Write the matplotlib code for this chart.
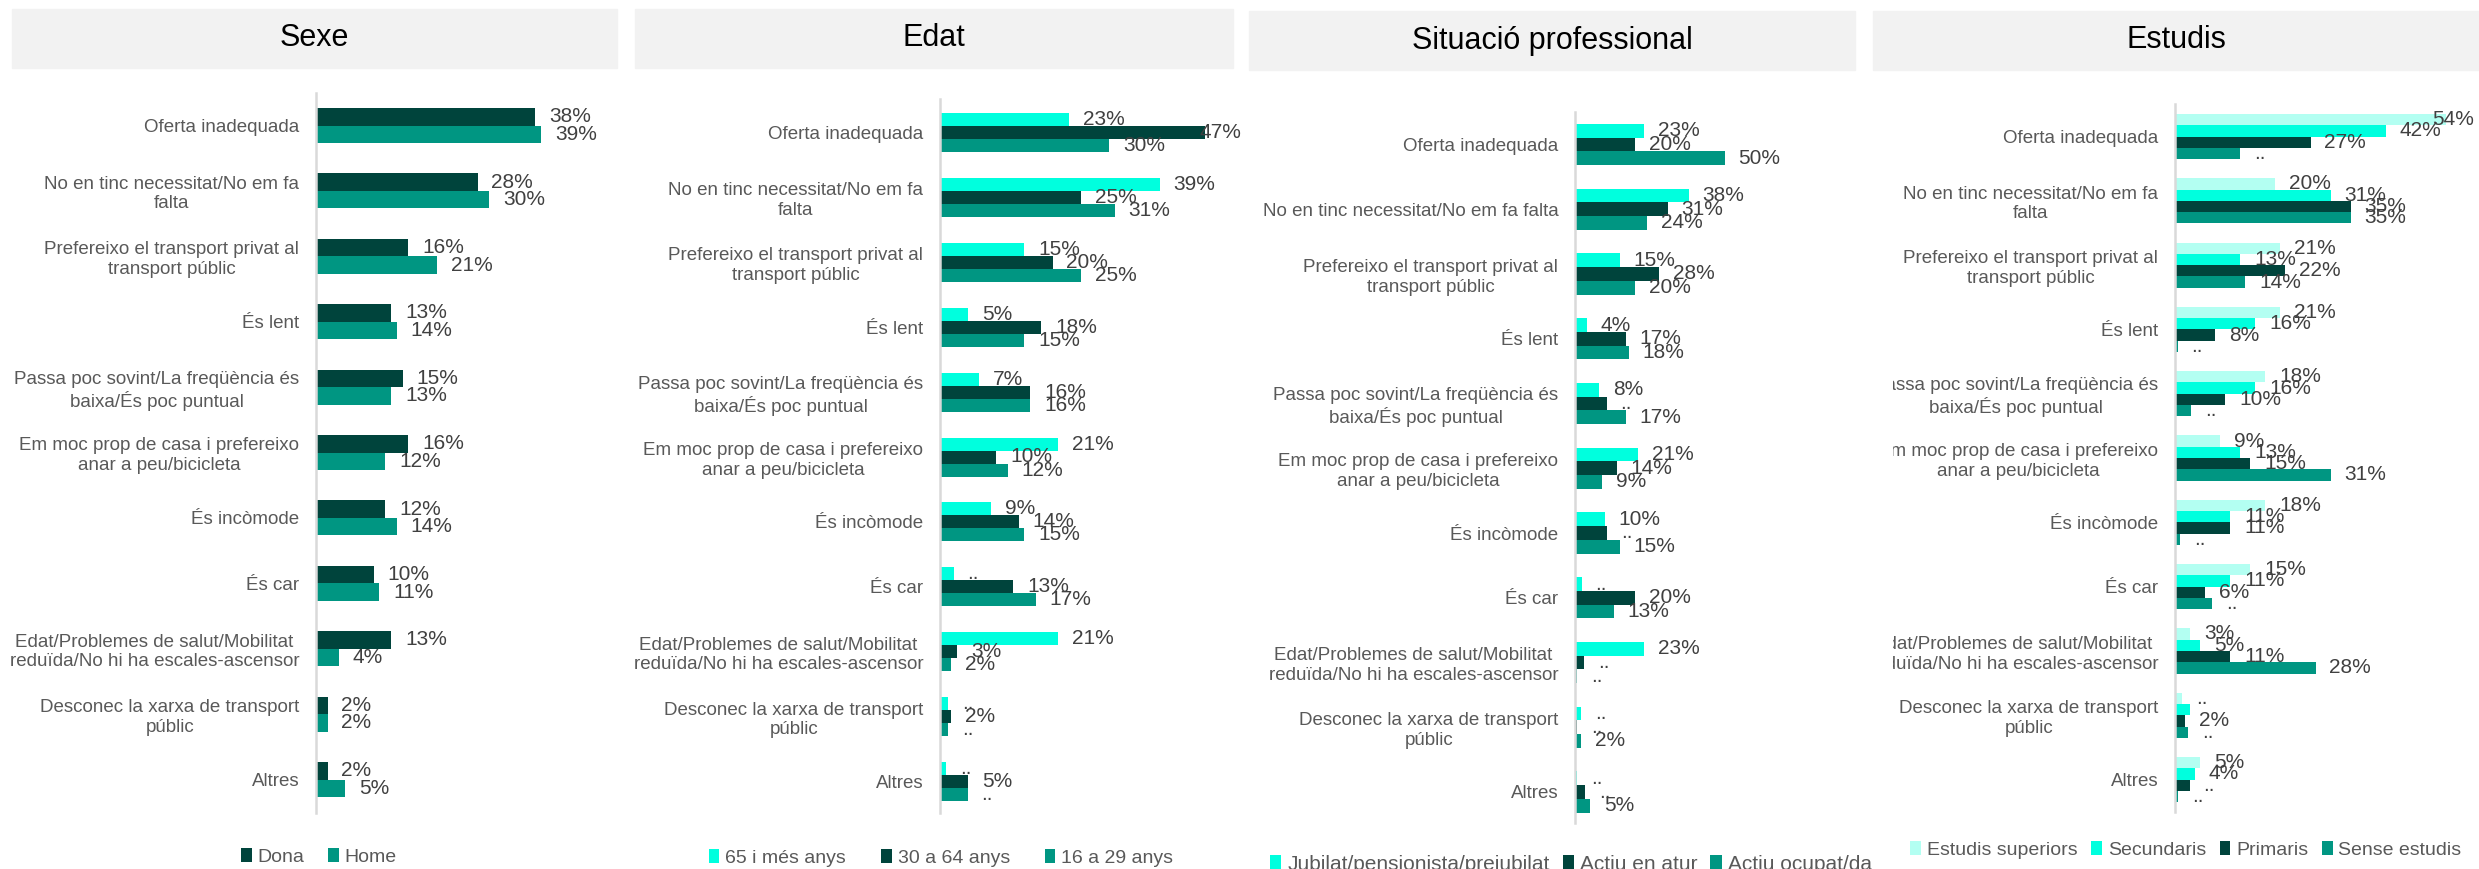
import matplotlib.pyplot as plt
from matplotlib.patches import Rectangle
from matplotlib.transforms import Bbox

plt.rcParams['font.family'] = ['Liberation Sans', 'DejaVu Sans']

W, H = 2479, 869

categories = [
    "Oferta inadequada",
    "No en tinc necessitat/No em fa\nfalta",
    "Prefereixo el transport privat al\ntransport públic",
    "És lent",
    "Passa poc sovint/La freqüència és\nbaixa/És poc puntual",
    "Em moc prop de casa i prefereixo\nanar a peu/bicicleta",
    "És incòmode",
    "És car",
    "Edat/Problemes de salut/Mobilitat\nreduïda/No hi ha escales-ascensor",
    "Desconec la xarxa de transport\npúblic",
    "Altres",
]
categories_sit = list(categories)
categories_sit[1] = "No en tinc necessitat/No em fa falta"

# Sexe
sexe_names = ["Dona", "Home"]
dona = [38, 28, 16, 13, 15, 16, 12, 10, 13, 2, 2]
home = [39, 30, 21, 14, 13, 12, 14, 11, 4, 2, 5]

# Edat
edat_names = ["65 i més anys", "30 a 64 anys", "16 a 29 anys"]
edat_65 = [23, 39, 15, 5, 7, 21, 9, 2.4, 21, 1.4, 1.1]
edat_30 = [47, 25, 20, 18, 16, 10, 14, 13, 3, 2, 5]
edat_16 = [30, 31, 25, 15, 16, 12, 15, 17, 2, 1.4, 4.9]
edat_65_nd = [7, 9, 10]
edat_16_nd = [9, 10]

# Situació professional
sit_names = ["Jubilat/pensionista/prejubilat", "Actiu en atur", "Actiu ocupat/da"]
sit_jub = [23, 38, 15, 4, 8, 21, 10, 2.2, 23, 2, 0.7]
sit_atur = [20, 31, 28, 17, 10.6, 14, 10.8, 20, 3, 0.7, 3.4]
sit_ocup = [50, 24, 20, 18, 17, 9, 15, 13, 0.8, 2, 5]
sit_jub_nd = [7, 9, 10]
sit_atur_nd = [4, 6, 8, 9, 10]
sit_ocup_nd = [8]

# Estudis
est_names = ["Estudis superiors", "Secundaris", "Primaris", "Sense estudis"]
est_sup = [54, 20, 21, 21, 18, 9, 18, 15, 3, 1.4, 5]
est_sec = [42, 31, 13, 16, 16, 13, 11, 11, 5, 2.9, 4]
est_pri = [27, 35, 22, 8, 10, 15, 11, 6, 11, 2, 2.9]
est_sen = [13, 35, 14, 0.5, 3.2, 31, 1, 7.4, 28, 2.6, 0.6]
est_sup_nd = [9]
est_sec_nd = [9]
est_pri_nd = [10]
est_sen_nd = [0, 3, 4, 6, 7, 9, 10]
est_sec_nolabel = [9]

DARK = '#00443c'
TEAL = '#009682'
CYAN = '#00ffde'
LIGHT = '#b3fff2'
GREY_TXT = '#595959'
VAL_TXT = '#404040'

fig = plt.figure(figsize=(W / 100, H / 100), dpi=100)


def fig_rect(x0, y0, x1, y1):
    # pixel box (origin top-left) -> figure fraction
    return [x0 / W, 1 - y1 / H, (x1 - x0) / W, (y1 - y0) / H]


def header(x0, x1, y0, y1, text):
    fig.add_artist(Rectangle((x0 / W, 1 - y1 / H), (x1 - x0) / W, (y1 - y0) / H,
                             transform=fig.transFigure, color='#f2f2f2', zorder=0))
    fig.text((x0 + x1) / 2 / W, 1 - (y0 + y1) / 2 / H, text, ha='center', va='center',
             fontsize=22, color='black')


def panel(box, c0, pitch, scale, bar_px, series, names, colors, cats,
          leg_xy, leg_gap, leg_size=14, label_clip=None, value_edge=None):
    x0, y0, x1, y1 = box
    ax = fig.add_axes(fig_rect(x0, y0, x1, y1))
    n = len(series)
    h = bar_px / pitch
    for k, (vals, nd, hidden) in enumerate(series):
        ys = [i + (k - (n - 1) / 2) * h for i in range(len(vals))]
        ax.barh(ys, vals, height=h, color=colors[k], label=names[k], zorder=2)
        for i, (v, y) in enumerate(zip(vals, ys)):
            if i in hidden:
                continue
            txt = '..' if i in nd else f'{v:.0f}%'
            # labels that would run past the panel edge are pulled back inside
            if value_edge is not None and x0 + v * scale + 14 + 46 > value_edge:
                t = ax.text((value_edge - x0) / scale, y, txt, ha='right', va='center',
                            fontsize=15, color=VAL_TXT, clip_on=False, zorder=3)
            else:
                t = ax.annotate(txt, (v, y), xytext=(10, 0), textcoords='offset points',
                                ha='left', va='center', fontsize=15, color=VAL_TXT,
                                annotation_clip=False, zorder=3)
    ax.set_xlim(0, (x1 - x0) / scale)
    top = -(c0 - y0) / pitch
    bottom = (y1 - c0) / pitch
    ax.set_ylim(bottom, top)
    ax.set_yticks(range(len(cats)))
    ax.set_yticklabels(cats, fontsize=13.5, color=GREY_TXT, multialignment='center')
    ax.tick_params(axis='y', length=0, pad=12)
    ax.set_xticks([])
    for s in ['top', 'right', 'bottom']:
        ax.spines[s].set_visible(False)
    ax.spines['left'].set_color('#d9d9d9')
    ax.spines['left'].set_linewidth(1.8)
    ax.set_facecolor('none')
    if label_clip is not None:
        for t in ax.get_yticklabels():
            t.set_clip_on(True)
            t.set_clip_box(Bbox.from_extents(label_clip, 0, W, H))
    ax.legend(loc='center', bbox_to_anchor=(leg_xy[0] / W, 1 - leg_xy[1] / H),
              bbox_transform=fig.transFigure, ncol=n, frameon=False,
              handlelength=0.55, handleheight=0.75, handletextpad=0.3,
              columnspacing=leg_gap, fontsize=leg_size, labelcolor=GREY_TXT,
              borderpad=0, borderaxespad=0)
    return ax


header(12, 617, 9, 68, "Sexe")
header(635, 1233, 9, 68, "Edat")
header(1249, 1855, 11, 70, "Situació professional")
header(1873, 2479, 11, 70, "Estudis")

panel((316, 93, 617, 813), 125.5, 65.4, 5.77, 17.5,
      [(dona, [], []), (home, [], [])], sexe_names, [DARK, TEAL], categories,
      (319, 857), 1.2)

panel((940, 99, 1233, 813), 132.5, 64.9, 5.63, 13,
      [(edat_65, edat_65_nd, []), (edat_30, [], []), (edat_16, edat_16_nd, [])],
      edat_names, [CYAN, DARK, TEAL], categories,
      (941, 858), 1.8, value_edge=1241)

panel((1575, 112, 1855, 823), 144.5, 64.75, 2.99, 13.7,
      [(sit_jub, sit_jub_nd, []), (sit_atur, sit_atur_nd, []), (sit_ocup, sit_ocup_nd, [])],
      sit_names, [CYAN, DARK, TEAL], categories_sit,
      (1571, 864), 0.6, leg_size=15)

panel((2175, 104, 2479, 812), 136.5, 64.3, 5.02, 11.3,
      [(est_sup, est_sup_nd, []), (est_sec, est_sec_nd, est_sec_nolabel),
       (est_pri, est_pri_nd, []), (est_sen, est_sen_nd, [])],
      est_names, [LIGHT, CYAN, DARK, TEAL], categories,
      (2186, 850), 0.7, label_clip=1893, value_edge=2474)

fig.savefig('out.png', dpi=100, facecolor='white')
